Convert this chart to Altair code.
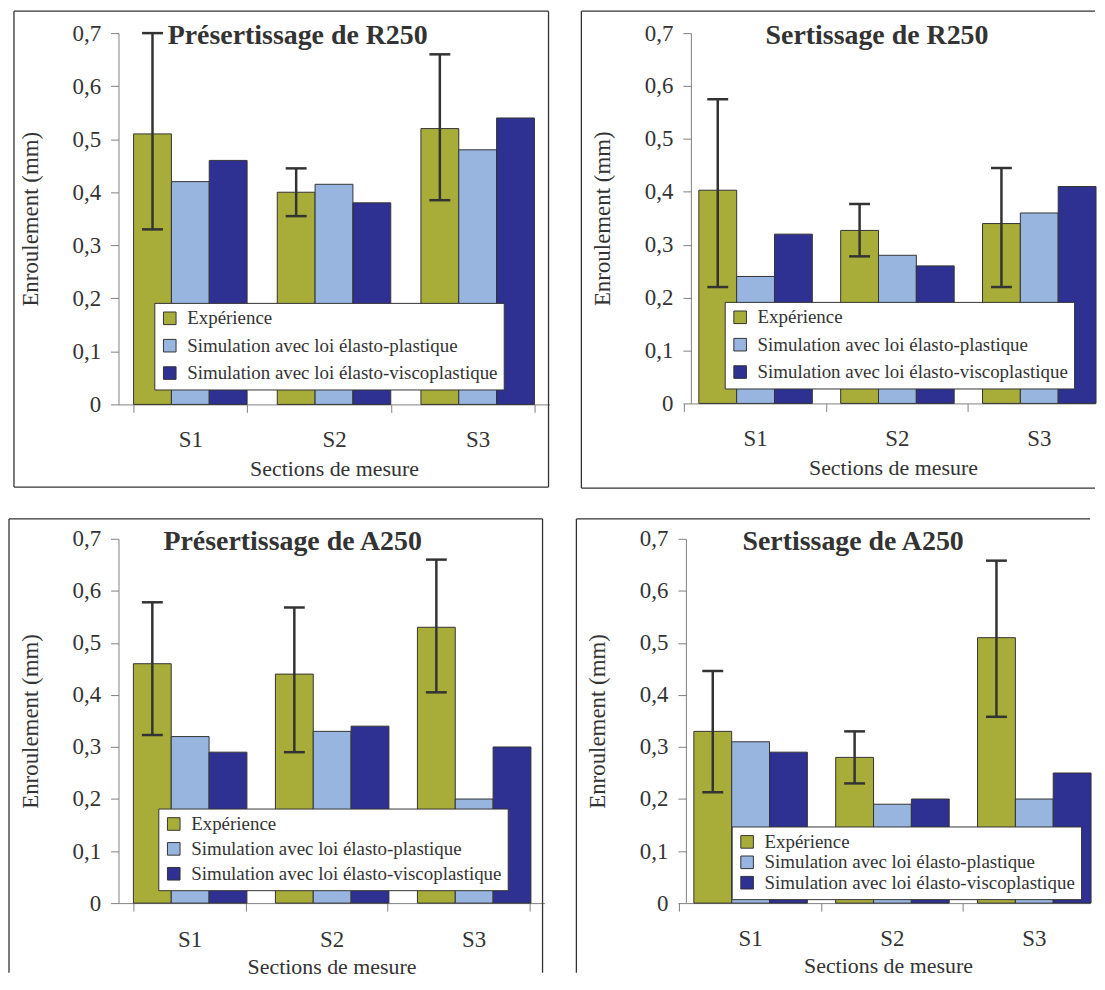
import altair as alt
import pandas as pd

sections = ["S1", "S2", "S3"]
series = ["Expérience",
          "Simulation avec loi élasto-plastique",
          "Simulation avec loi élasto-viscoplastique"]
colors = ["#A8AD3A", "#97B5DF", "#2E3192"]

titles = ["Présertissage de R250", "Sertissage de R250",
          "Présertissage de A250", "Sertissage de A250"]

exp_vals = [[0.51, 0.40, 0.52], [0.403, 0.327, 0.34], [0.46, 0.44, 0.53], [0.33, 0.28, 0.51]]
ep_vals = [[0.42, 0.415, 0.48], [0.24, 0.28, 0.36], [0.32, 0.33, 0.20], [0.31, 0.19, 0.20]]
evp_vals = [[0.46, 0.38, 0.54], [0.32, 0.26, 0.41], [0.29, 0.34, 0.30], [0.29, 0.20, 0.25]]
err_lo = [[0.33, 0.355, 0.385], [0.22, 0.278, 0.22], [0.323, 0.29, 0.405], [0.213, 0.23, 0.358]]
err_hi = [[0.70, 0.445, 0.66], [0.575, 0.377, 0.445], [0.578, 0.568, 0.66], [0.446, 0.33, 0.658]]

y_ticks = [0, 0.1, 0.2, 0.3, 0.4, 0.5, 0.6, 0.7]

FONT = "Liberation Serif"
INK = "#333333"

WR = 406  # plot width of the right-hand panels (cut by the page edge in the original)

# panel geometry: plot size, frame edges (plot-relative px), title and legend placement
layout = [
    dict(W=433, H=373, right=False,
         edges=[(-105, -22, 432, -22), (-105, 456, 432, 456), (-105, -22, -105, 456), (432, -22, 432, 456)],
         tx=180, ty=11, lx=36, ly=271, rp=7.5, lp=16, tp=7),
    dict(W=WR, H=372, right=True,
         edges=[(-110, -22, WR, -22), (-110, 457, WR, 457), (-110, -22, -110, 457)],
         tx=187, ty=11, lx=34, ly=270, rp=7.5, lp=16, tp=7),
    dict(W=428, H=366, right=False,
         edges=[(-110, -20, 426, -20), (-110, -20, -110, 436), (426, -20, 426, 436)],
         tx=175, ty=11, lx=40, ly=271, rp=5, lp=18, tp=5),
    dict(W=WR, H=366, right=True,
         edges=[(-110, -20, WR, -20), (-110, -20, -110, 436)],
         tx=168, ty=11, lx=46, ly=289, rp=0.5, lp=17, tp=5),
]


def panel(i):
    p = layout[i]
    rows = []
    for name, vals in zip(series, [exp_vals[i], ep_vals[i], evp_vals[i]]):
        for s, v in zip(sections, vals):
            rows.append({"section": s, "series": name, "value": v})
    bars_df = pd.DataFrame(rows)
    err_df = pd.DataFrame({"section": sections, "series": [series[0]] * 3,
                           "lo": err_lo[i], "hi": err_hi[i]})
    caps_df = pd.DataFrame({"section": sections * 2, "series": [series[0]] * 6,
                            "value": err_lo[i] + err_hi[i]})

    if p["right"]:
        pi = 0.207
        step = 142.5
        po = (p["W"] / step - (3 - pi)) / 2
        xs = alt.Scale(domain=sections, paddingInner=pi, paddingOuter=po, align=1)
        xaxis = alt.Axis(title="Sections de mesure", labelAngle=0, labelPadding=p["lp"],
                         titlePadding=p["tp"], tickOffset=-step / 2, labelOffset=step / 2)
    else:
        xs = alt.Scale(domain=sections, paddingInner=0.21, paddingOuter=0.105)
        xaxis = alt.Axis(title="Sections de mesure", tickBand="extent", labelAngle=0,
                         labelPadding=p["lp"], titlePadding=p["tp"])
    x_enc = alt.X("section:N", sort=sections, scale=xs, axis=xaxis)
    xo = alt.XOffset("series:N", sort=series, scale=alt.Scale(domain=series))
    ys = alt.Scale(domain=[0, 0.7], nice=False, zero=True)
    y_enc = alt.Y("value:Q", scale=ys, title="Enroulement (mm)",
                  axis=alt.Axis(values=y_ticks, labelPadding=10, titlePadding=30, titleFontSize=23,
                                labelExpr="datum.value == 0 ? '0' : replace(format(datum.value, '.1f'), '.', ',')"))

    one = pd.DataFrame({"a": [0]})
    frame = [
        alt.Chart(one).mark_rule(color=INK, strokeWidth=1.3).encode(
            x=alt.value(x1), y=alt.value(y1), x2=alt.value(x2), y2=alt.value(y2))
        for (x1, y1, x2, y2) in p["edges"]
    ]

    bars = alt.Chart(bars_df).mark_bar(stroke=INK, strokeWidth=1).encode(
        x=x_enc, xOffset=xo, y=y_enc,
        color=alt.Color("series:N", scale=alt.Scale(domain=series, range=colors),
                        legend=alt.Legend(orient="none", legendX=p["lx"], legendY=p["ly"],
                                          rowPadding=p["rp"], title=None)))

    rules = alt.Chart(err_df).mark_rule(color=INK, strokeWidth=2.5).encode(
        x=alt.X("section:N", sort=sections), xOffset=alt.XOffset("series:N", sort=series),
        y=alt.Y("lo:Q", title="Enroulement (mm)"), y2="hi:Q")

    caps = alt.Chart(caps_df).mark_tick(color=INK, thickness=2.5, size=21, opacity=1).encode(
        x=alt.X("section:N", sort=sections), xOffset=alt.XOffset("series:N", sort=series),
        y=alt.Y("value:Q", title="Enroulement (mm)"))

    title = alt.Chart(one).mark_text(text=titles[i], font=FONT, fontSize=28, fontWeight="bold",
                                     color=INK, align="center", baseline="alphabetic").encode(
        x=alt.value(p["tx"]), y=alt.value(p["ty"]))

    return alt.layer(*frame, bars, rules, caps, title).properties(width=p["W"], height=p["H"])


row1 = alt.hconcat(panel(0), panel(1), spacing=31).resolve_legend(color="independent").resolve_scale(color="independent")
row2 = alt.hconcat(panel(2), panel(3), spacing=31).resolve_legend(color="independent").resolve_scale(color="independent")

chart = alt.vconcat(row1, row2, spacing=29).resolve_legend(color="independent").resolve_scale(
    color="independent").properties(padding=0).configure(padding=0).configure_view(stroke=None).configure_axis(
    domainColor="#808080", tickColor="#808080", domainWidth=1, tickWidth=1, tickSize=8,
    labelFont=FONT, labelFontSize=23, labelColor=INK,
    titleFont=FONT, titleFontSize=22, titleFontWeight="normal", titleColor=INK, grid=False
).configure_legend(
    fillColor="white", strokeColor=INK, padding=6, symbolType="square", symbolSize=160,
    symbolStrokeColor=INK, symbolStrokeWidth=1, symbolOpacity=1,
    labelFont=FONT, labelFontSize=19, labelColor=INK, labelOffset=8, labelLimit=0
)

chart.save("out.html", embed_options={"renderer": "svg", "actions": False})
